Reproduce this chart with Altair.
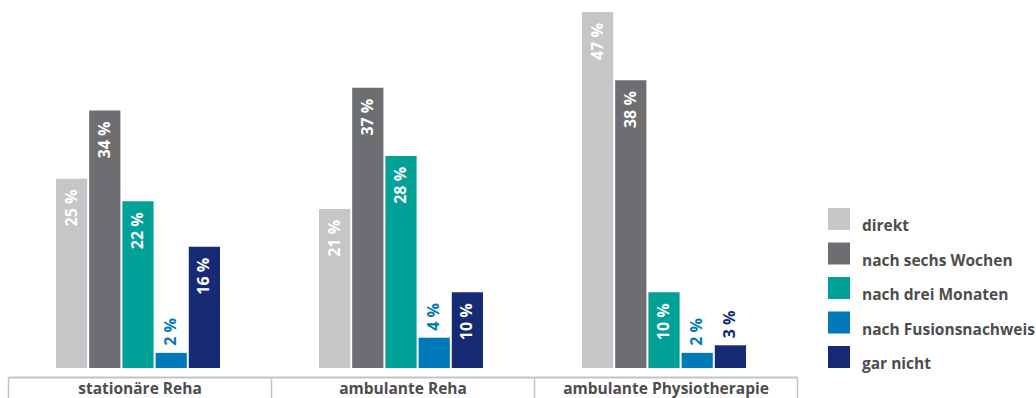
import altair as alt
import pandas as pd

groups = ["stationäre Reha", "ambulante Reha", "ambulante Physiotherapie"]
series = ["direkt", "nach sechs Wochen", "nach drei Monaten", "nach Fusionsnachweis", "gar nicht"]
colors = ["#c5c6c8", "#6d6e71", "#00a196", "#0079b8", "#172a76"]
values = {
    "stationäre Reha": [25, 34, 22, 2, 16],
    "ambulante Reha": [21, 37, 28, 4, 10],
    "ambulante Physiotherapie": [47, 38, 10, 2, 3],
}

rows = []
for g in groups:
    for s, v in zip(series, values[g]):
        rows.append({"Gruppe": g, "Zeitpunkt": s, "Wert": v, "Label": f"{v} %"})
df = pd.DataFrame(rows)

FONT = "Open Sans"
TXT = "#4d4d4f"

x = alt.X("Gruppe:N", sort=groups, title=None,
          scale=alt.Scale(paddingInner=0, paddingOuter=0),
          axis=alt.Axis(tickBand="extent", offset=9, tickSize=21, tickWidth=1.5,
                        tickColor="#c3c3c3", domainColor="#c3c3c3", domainWidth=2,
                        labelAngle=0, labelPadding=-17, labelBaseline="top",
                        labelFont=FONT, labelFontSize=15.5, labelFontWeight="bold",
                        labelColor=TXT, labelLimit=400, grid=False))
xo = alt.XOffset("Zeitpunkt:N", sort=series,
                 scale=alt.Scale(range=[48, 212], paddingInner=0.06, paddingOuter=0))
y = alt.Y("Wert:Q", scale=alt.Scale(domain=[0, 47], nice=False, zero=True), axis=None)
color = alt.Color("Zeitpunkt:N", sort=series,
                  scale=alt.Scale(domain=series, range=colors),
                  legend=alt.Legend(title=None, orient="none", legendX=820, legendY=196,
                                    symbolType="square", symbolSize=484, symbolStrokeWidth=0,
                                    labelFont=FONT, labelFontSize=15.5, labelFontWeight="bold",
                                    labelColor=TXT, labelBaseline="top", rowPadding=7.5,
                                    labelOffset=12, labelLimit=300))

base = alt.Chart(df)
bars = base.mark_bar().encode(x=x, xOffset=xo, y=y, color=color)

inside = base.transform_filter("datum.Wert >= 10").mark_text(
    angle=270, align="right", baseline="middle", dx=-11, color="white",
    font=FONT, fontSize=16, fontWeight="bold"
).encode(x=x, xOffset=xo, y=y, text="Label:N")

outside = base.transform_filter("datum.Wert < 10").mark_text(
    angle=270, align="left", baseline="middle", dx=7,
    font=FONT, fontSize=16, fontWeight="bold"
).encode(x=x, xOffset=xo, y=y, text="Label:N",
         color=alt.Color("Zeitpunkt:N", sort=series,
                         scale=alt.Scale(domain=series, range=colors), legend=None))

chart = alt.layer(bars, inside, outside).properties(
    width=789, height=356,
    autosize=alt.AutoSizeParams(type="none"),
    padding={"left": 8, "top": 12, "right": 239, "bottom": 30},
).configure(background="white").configure_view(stroke=None)

chart.save("out.html", embed_options={"renderer": "svg", "actions": False})
